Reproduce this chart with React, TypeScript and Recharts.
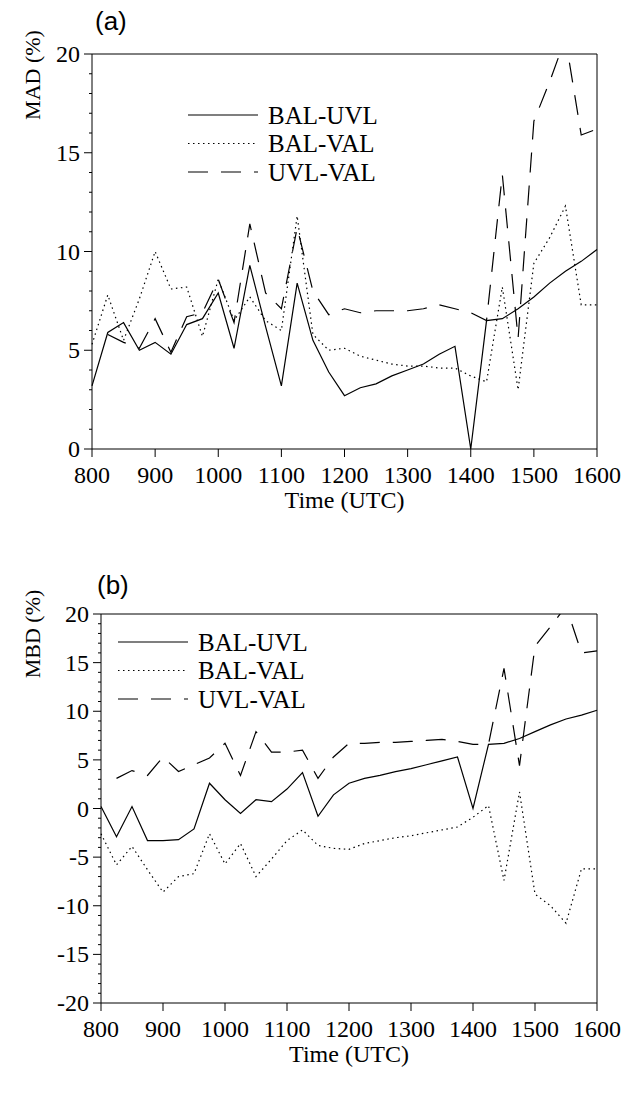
import React from "react";
import { LineChart, Line, XAxis, YAxis, Legend, ReferenceLine } from "recharts";

const times = [
  800, 825, 850, 875, 900, 925, 950, 975, 1000, 1025, 1050, 1075, 1100, 1125, 1150, 1175, 1200,
  1225, 1250, 1275, 1300, 1325, 1350, 1375, 1400, 1425, 1450, 1475, 1500, 1525, 1550, 1575, 1600,
];

// (a) MAD (%)
const madBalUvl = [
  3.2, 5.9, 6.4, 5.0, 5.4, 4.8, 6.3, 6.6, 7.9, 5.1, 9.3, 6.2, 3.2, 8.4, 5.5, 3.9, 2.7,
  3.1, 3.3, 3.7, 4.0, 4.3, 4.8, 5.2, 0.0, 6.5, 6.6, 7.1, 7.7, 8.4, 9.0, 9.5, 10.1,
];
const madBalVal = [
  5.3, 7.8, 5.5, 7.6, 10.0, 8.1, 8.2, 5.7, 8.6, 6.5, 7.7, 6.5, 6.0, 11.8, 5.8, 5.0, 5.1,
  4.7, 4.5, 4.3, 4.2, 4.2, 4.1, 4.1, 3.7, 3.4, 8.2, 3.0, 9.4, 10.7, 12.3, 7.3, 7.3,
];
const madUvlVal = [
  null, 5.8, 5.4, 5.1, 6.6, 4.9, 6.7, 6.9, 8.6, 6.4, 11.4, 7.9, 7.1, 11.2, 8.0, 6.8, 7.1,
  6.9, 7.0, 7.0, 7.0, 7.1, 7.3, 7.1, 6.9, 6.5, 13.9, 5.6, 16.6, 18.6, 20.8, 15.9, 16.2,
];

// (b) MBD (%)
const mbdBalUvl = [
  0.2, -2.9, 0.2, -3.3, -3.3, -3.2, -2.1, 2.6, 0.9, -0.5, 0.9, 0.7, 2.0, 3.7, -0.8, 1.4, 2.6,
  3.1, 3.4, 3.8, 4.1, 4.5, 4.9, 5.3, 0.0, 6.6, 6.7, 7.2, 7.9, 8.6, 9.2, 9.6, 10.1,
];
const mbdBalVal = [
  -2.6, -5.8, -3.9, -6.3, -8.6, -7.0, -6.7, -2.6, -5.7, -3.6, -7.0, -5.2, -3.3, -2.2, -3.8, -4.1, -4.2,
  -3.6, -3.3, -3.0, -2.8, -2.5, -2.2, -1.9, -0.9, 0.3, -7.4, 1.7, -8.8, -10.0, -11.8, -6.2, -6.2,
];
const mbdUvlVal = [
  null, 3.1, 3.9, 3.4, 5.3, 3.8, 4.5, 5.2, 6.7, 3.4, 7.9, 5.8, 5.8, 6.0, 3.1, 5.3, 6.7,
  6.7, 6.8, 6.8, 6.9, 7.0, 7.1, 6.9, 6.6, 6.6, 14.4, 4.4, 16.7, 18.7, 20.8, 16.0, 16.2,
];

const xTicks = [800, 900, 1000, 1100, 1200, 1300, 1400, 1500, 1600];
const madTicks = [0, 1, 2, 3, 4, 5, 6, 7, 8, 9, 10, 11, 12, 13, 14, 15, 16, 17, 18, 19, 20];
const mbdTicks = [
  -20, -19, -18, -17, -16, -15, -14, -13, -12, -11, -10, -9, -8, -7, -6, -5, -4, -3, -2, -1, 0,
  1, 2, 3, 4, 5, 6, 7, 8, 9, 10, 11, 12, 13, 14, 15, 16, 17, 18, 19, 20,
];

const seriesNames = ["BAL-UVL", "BAL-VAL", "UVL-VAL"];
const dashes: Record<string, string | undefined> = {
  "BAL-UVL": undefined,
  "BAL-VAL": "1.5 3.5",
  "UVL-VAL": "20 13",
};

const madData = times.map((t, i) => ({
  t,
  "BAL-UVL": madBalUvl[i],
  "BAL-VAL": madBalVal[i],
  "UVL-VAL": madUvlVal[i],
}));
const mbdData = times.map((t, i) => ({
  t,
  "BAL-UVL": mbdBalUvl[i],
  "BAL-VAL": mbdBalVal[i],
  "UVL-VAL": mbdUvlVal[i],
}));

const serif = "'Liberation Serif', 'Times New Roman', Times, serif";

// y ticks: major every 5 with a label, minor every 1, all pointing outward
const YTick = (props: any) => {
  const { x, y, payload } = props;
  const v = payload.value;
  const major = v % 5 === 0;
  const ax = x + 12;
  return (
    <g>
      <line x1={ax - (major ? 8 : 3)} x2={ax} y1={y} y2={y} stroke="#000" strokeWidth={1} />
      {major && (
        <text x={x} y={y} dy={8} textAnchor="end" style={{ fontSize: 24, fontFamily: serif, fill: "#000" }}>
          {v}
        </text>
      )}
    </g>
  );
};

const XTick = (props: any) => {
  const { x, y, payload } = props;
  return (
    <text x={x} y={y} dy={21} textAnchor="middle" style={{ fontSize: 24, fontFamily: serif, fill: "#000" }}>
      {payload.value}
    </text>
  );
};

const LegendBox = ({ payload }: any) => (
  <svg width={260} height={90}>
    {(payload || []).map((p: any, i: number) => (
      <g key={p.value}>
        <line
          x1={0}
          x2={70}
          y1={14 + i * 28.5}
          y2={14 + i * 28.5}
          stroke="#000"
          strokeWidth={1.2}
          strokeDasharray={dashes[p.value]}
        />
        <text x={80} y={14 + i * 28.5} dy={8.5} style={{ fontSize: 25, fontFamily: serif, fill: "#000" }}>
          {p.value}
        </text>
      </g>
    ))}
  </svg>
);

const Panel = ({
  data,
  ticks,
  domain,
  yWidth,
  height,
  xHeight,
  legendPos,
}: {
  data: any[];
  ticks: number[];
  domain: [number, number];
  yWidth: number;
  height: number;
  xHeight: number;
  legendPos: { left: number; top: number };
}) => (
  <LineChart
    width={630}
    height={height}
    data={data}
    margin={{ top: 54, right: 33, left: 0, bottom: 0 }}
    style={{ fontFamily: serif }}
  >
    <XAxis
      dataKey="t"
      type="number"
      domain={[800, 1600]}
      ticks={xTicks}
      interval={0}
      height={xHeight}
      tickSize={8}
      tickMargin={5}
      axisLine={{ stroke: "#000" }}
      tickLine={{ stroke: "#000" }}
      tick={<XTick />}
      label={{
        value: "Time (UTC)",
        position: "insideTop",
        offset: 42,
        style: { fontSize: 24, fontFamily: serif, fill: "#000" },
      }}
    />
    <YAxis
      type="number"
      domain={domain}
      ticks={ticks}
      interval={0}
      allowDataOverflow
      width={yWidth}
      tickSize={8}
      tickMargin={4}
      tickLine={false}
      axisLine={{ stroke: "#000" }}
      tick={<YTick />}
    />
    <ReferenceLine y={domain[1]} stroke="#000" />
    <ReferenceLine x={1600} stroke="#000" />
    <Legend
      layout="vertical"
      align="center"
      verticalAlign="middle"
      content={<LegendBox />}
      wrapperStyle={{ left: legendPos.left, top: legendPos.top, width: 260, height: 90 }}
    />
    {seriesNames.map((name) => (
      <Line
        key={name}
        dataKey={name}
        name={name}
        stroke="#000"
        strokeWidth={1.2}
        strokeDasharray={dashes[name]}
        dot={false}
        activeDot={false}
        isAnimationActive={false}
        type="linear"
      />
    ))}
  </LineChart>
);

const labelStyle: React.CSSProperties = {
  position: "absolute",
  fontFamily: "'Liberation Sans', Arial, sans-serif",
  fontSize: 26,
  color: "#000",
  lineHeight: "28px",
};

const yLabelStyle: React.CSSProperties = {
  position: "absolute",
  fontFamily: serif,
  fontSize: 22,
  color: "#000",
  whiteSpace: "nowrap",
  width: 100,
  textAlign: "center",
  lineHeight: "24px",
  transform: "rotate(-90deg)",
};

export default function App() {
  return (
    <div
      style={{
        position: "absolute",
        left: 0,
        top: 0,
        width: 630,
        height: 1093,
        background: "#fff",
        fontFamily: serif,
      }}
    >
      <div style={{ position: "absolute", left: 0, top: 0 }}>
        <Panel
          data={madData}
          ticks={madTicks}
          domain={[0, 20]}
          yWidth={92}
          height={560}
          xHeight={111}
          legendPos={{ left: 188, top: 101 }}
        />
      </div>
      <div style={{ position: "absolute", left: 0, top: 560 }}>
        <Panel
          data={mbdData}
          ticks={mbdTicks}
          domain={[-20, 20]}
          yWidth={101}
          height={533}
          xHeight={90}
          legendPos={{ left: 118, top: 68 }}
        />
      </div>
      <div style={{ ...labelStyle, left: 95, top: 7 }}>(a)</div>
      <div style={{ ...labelStyle, left: 97, top: 571 }}>(b)</div>
      <div style={{ ...yLabelStyle, left: -17, top: 63 }}>MAD (%)</div>
      <div style={{ ...yLabelStyle, left: -17, top: 622 }}>MBD (%)</div>
    </div>
  );
}
